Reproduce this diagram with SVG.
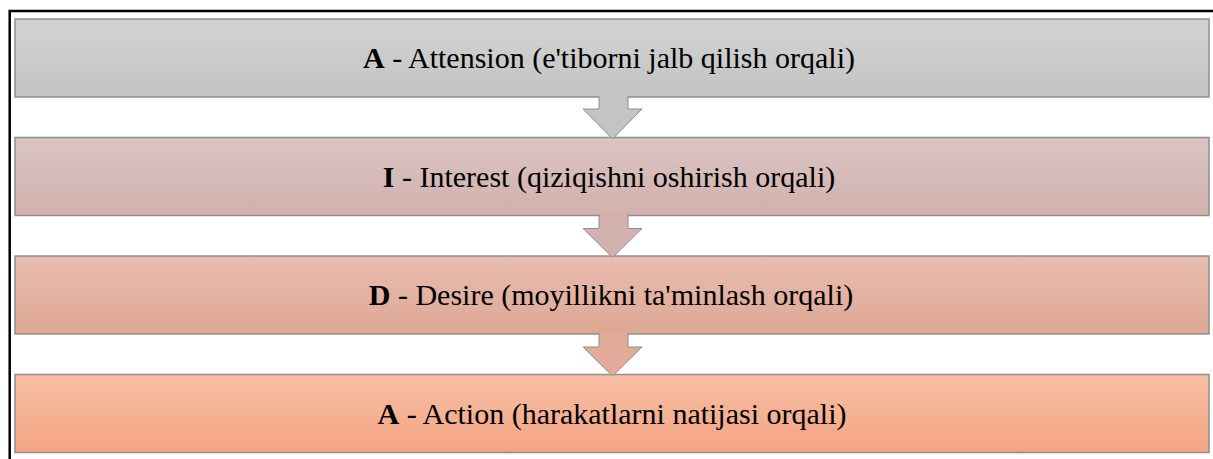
<svg xmlns="http://www.w3.org/2000/svg" width="1213" height="459" viewBox="0 0 1213 459">
<defs>
<linearGradient id="g1" x1="0" y1="0" x2="0" y2="1"><stop offset="0" stop-color="#d3d3d3"/><stop offset="1" stop-color="#c3c3c3"/></linearGradient>
<linearGradient id="g2" x1="0" y1="0" x2="0" y2="1"><stop offset="0" stop-color="#dac5c3"/><stop offset="1" stop-color="#d2b0ad"/></linearGradient>
<linearGradient id="g3" x1="0" y1="0" x2="0" y2="1"><stop offset="0" stop-color="#e8bdaf"/><stop offset="1" stop-color="#dfa794"/></linearGradient>
<linearGradient id="g4" x1="0" y1="0" x2="0" y2="1"><stop offset="0" stop-color="#f7bfa5"/><stop offset="1" stop-color="#f4a482"/></linearGradient>
</defs>
<style>
.box{stroke:#8e8e8e;stroke-width:1.5}
.lbl{font-family:"Liberation Serif","Times New Roman",serif;font-size:30px;fill:#000;text-anchor:middle}
.b{font-weight:bold}
.arr{stroke:#8e8e8e;stroke-width:1}
.frame{stroke:#000;stroke-width:2.5;fill:none}
</style>
<path class="frame" d="M9.7 459 V11 H1213"/>
<g id="node1"><rect class="box" x="15" y="19" width="1194" height="78" fill="url(#g1)"/><text class="lbl" x="609" y="68"><tspan class="b">A</tspan> - Attension (e'tiborni jalb qilish orqali)</text></g>
<g id="node2"><rect class="box" x="15" y="137.5" width="1194" height="78" fill="url(#g2)"/><text class="lbl" x="609" y="186.5"><tspan class="b">I</tspan> - Interest (qiziqishni oshirish orqali)</text></g>
<g id="node3"><rect class="box" x="15" y="256" width="1194" height="78" fill="url(#g3)"/><text class="lbl" x="611" y="305"><tspan class="b">D</tspan> - Desire (moyillikni ta'minlash orqali)</text></g>
<g id="node4"><rect class="box" x="15" y="374.5" width="1194" height="78" fill="url(#g4)"/><text class="lbl" x="612" y="423.5"><tspan class="b">A</tspan> - Action (harakatlarni natijasi orqali)</text></g>
<g id="connectors">
<path class="arr" fill="#c4c4c4" d="M599 96 V109 H583 L612.5 139 L642 109 H628 V96"/>
<path class="arr" fill="#d3b1ae" d="M599 214.5 V228.5 H583 L612.5 257.5 L642 228.5 H628 V214.5"/>
<path class="arr" fill="#e2aa98" d="M599 333 V347 H583 L612.5 376 L642 347 H628 V333"/>
</g>
</svg>
